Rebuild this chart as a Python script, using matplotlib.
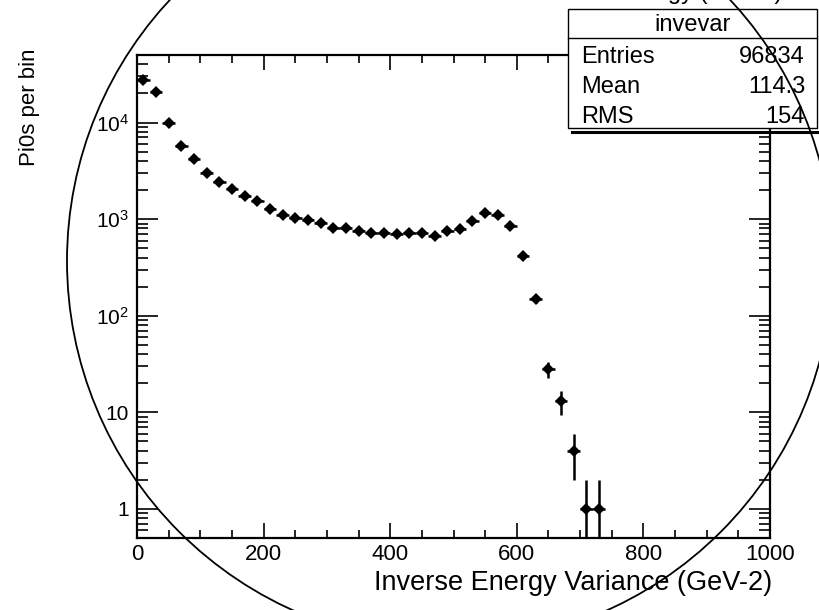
import matplotlib
matplotlib.use('Agg')
import matplotlib.pyplot as plt
from matplotlib.patches import Ellipse, Rectangle
from matplotlib.lines import Line2D
from matplotlib.ticker import FixedLocator, FixedFormatter, LogLocator, NullFormatter
import numpy as np

plt.rcParams['font.family'] = ['Liberation Sans', 'DejaVu Sans']
plt.rcParams['mathtext.fontset'] = 'custom'
plt.rcParams['mathtext.rm'] = 'Liberation Sans'

# ---- data ----
bin_centers = [10, 30, 50, 70, 90, 110, 130, 150, 170, 190, 210, 230, 250, 270,
               290, 310, 330, 350, 370, 390, 410, 430, 450, 470, 490, 510, 530,
               550, 570, 590, 610, 630, 650, 670, 690, 710, 730]
counts = [27600, 20900, 9840, 5650, 4220, 2990, 2450, 2050, 1750, 1550, 1280,
          1094, 1018, 971, 910, 809, 809, 747, 724, 724, 696, 724, 724, 668,
          760, 783, 948, 1155, 1112, 842, 412, 148, 28, 13, 4, 1, 1]
bin_half_width = 10
x_ticks = [0, 200, 400, 600, 800, 1000]
x_tick_labels = ['0', '200', '400', '600', '800', '1000']
y_ticks = [1, 10, 100, 1000, 10000]
y_tick_labels = ['1', '10', r'$\mathregular{10^{2}}$', r'$\mathregular{10^{3}}$', r'$\mathregular{10^{4}}$']
stats_title = 'invevar'
stats_rows = [('Entries', '96834'), ('Mean', '114.3'), ('RMS', '154')]
x_title = 'Inverse Energy Variance (GeV-2)'
y_title = 'Pi0s per bin'
plot_title = 'Inverse Energy (GeV-2)'

W, H = 819, 610
fig = plt.figure(figsize=(W / 100, H / 100), dpi=100)
fig.patch.set_facecolor('white')

def fx(px):
    return px / W

def fy(py):
    return 1 - py / H

ax = fig.add_axes([fx(137), fy(538), fx(770) - fx(137), fy(55) - fy(538)])
ax.set_yscale('log')
ax.set_xlim(0, 1000)
ax.set_ylim(0.5, 5e4)

c = np.array(counts, dtype=float)
err = np.sqrt(c)
lower = np.minimum(err, c - 1e-4)
ax.errorbar(bin_centers, c, yerr=[lower, err], xerr=bin_half_width, fmt='D',
            color='black', ms=6.5, lw=1.8, capsize=0, mew=0)

for s in ax.spines.values():
    s.set_linewidth(1.6)

ax.xaxis.set_major_locator(FixedLocator(x_ticks))
ax.xaxis.set_major_formatter(FixedFormatter(x_tick_labels))
ax.xaxis.set_minor_locator(FixedLocator(list(range(0, 1001, 50))))
ax.yaxis.set_major_locator(FixedLocator(y_ticks))
ax.yaxis.set_major_formatter(FixedFormatter(y_tick_labels))
ax.yaxis.set_minor_locator(LogLocator(base=10, subs=np.arange(2, 10), numticks=20))
ax.yaxis.set_minor_formatter(NullFormatter())

ax.tick_params(axis='x', which='major', direction='in', length=11, width=1.2,
               top=True, labelsize=16, pad=4)
ax.tick_params(axis='x', which='minor', direction='in', length=6, width=1.2, top=True)
ax.tick_params(axis='y', which='major', direction='in', length=15, width=1.2,
               right=True, labelsize=15, pad=6)
ax.tick_params(axis='y', which='minor', direction='in', length=8, width=1.2, right=True)

fig.text(fx(772), fy(583), x_title, ha='right', va='center', fontsize=19.5)
fig.text(fx(30), fy(49), y_title, ha='center', va='top', rotation=90, fontsize=16)
fig.text(fx(782), 1 + 1.0 / H, plot_title, ha='right', va='baseline', fontsize=17)

# stats box
bx0, bx1, by0, by1 = 568, 817, 9, 128
fig.add_artist(Line2D([fx(bx0 + 4), fx(bx1 + 4)], [fy(by1 + 4)] * 2, color='black',
                      lw=2.2, transform=fig.transFigure))
fig.add_artist(Rectangle((fx(bx0), fy(by1)), fx(bx1) - fx(bx0), fy(by0) - fy(by1),
                         transform=fig.transFigure, facecolor='white',
                         edgecolor='black', lw=1.0))
fig.add_artist(Line2D([fx(bx0), fx(bx1)], [fy(38)] * 2, color='black', lw=1.0,
                      transform=fig.transFigure))
fig.text(fx((bx0 + bx1) / 2), fy(25), stats_title, ha='center', va='center', fontsize=17)
row_y = [57, 87, 117]
for (name, val), ry in zip(stats_rows, row_y):
    fig.text(fx(581), fy(ry), name, ha='left', va='center', fontsize=17)
    fig.text(fx(805), fy(ry), val, ha='right', va='center', fontsize=17)

# hand-drawn circle overlay
fig.add_artist(Ellipse((fx(450), fy(261)), 766 / W, 766 / H, transform=fig.transFigure,
                       fill=False, edgecolor='black', lw=1.3))

fig.savefig('out.png', dpi=100)
